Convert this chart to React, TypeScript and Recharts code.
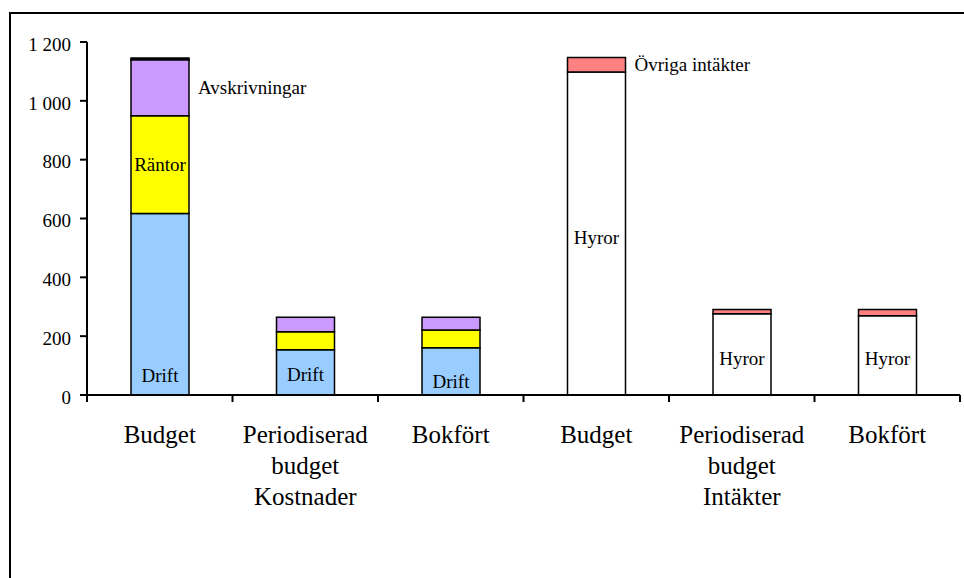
import React from 'react';
import { BarChart, Bar, XAxis, YAxis, LabelList } from 'recharts';

// kategorier på x-axeln, grupperade tre och tre
const categories = ['Budget', 'Periodiserad budget', 'Bokfört', 'Budget', 'Periodiserad budget', 'Bokfört'];
const groups = ['Kostnader', 'Intäkter'];

// kostnader
const drift = [617, 154, 161, 0, 0, 0];
const rantor = [332, 61, 60, 0, 0, 0];
const avskrivningar = [191, 49, 43, 0, 0, 0];
const ovrigt = [6, 0, 0, 0, 0, 0];
// intäkter
const hyror = [0, 0, 0, 1098, 276, 269];
const ovrigaIntakter = [0, 0, 0, 49, 15, 22];

const yTicks = [0, 200, 400, 600, 800, 1000, 1200];

const data = categories.map((name, i) => ({
  name,
  pos: i,
  drift: drift[i],
  rantor: rantor[i],
  avskrivningar: avskrivningar[i],
  ovrigt: ovrigt[i],
  hyror: hyror[i],
  ovrigaIntakter: ovrigaIntakter[i],
}));

const FONT = '"Liberation Serif", "Times New Roman", serif';

const fmt = (v: number) =>
  v >= 1000 ? `${Math.floor(v / 1000)} ${String(v % 1000).padStart(3, '0')}` : String(v);

type Place = 'center' | 'right' | 'bottom';

// label inside/next to a stacked segment, only for the listed bars (value = category position)
function segmentLabel(text: string, show: number[], place: Place, lift: number[] = []) {
  return (props: any) => {
    const idx = Number(props.value);
    if (!show.includes(idx)) return null;
    const vb = props.viewBox ?? props;
    const x = Number(vb.x);
    const y = Number(vb.y);
    const w = Number(vb.width);
    const h = Number(vb.height);
    let tx = x + w / 2;
    let ty = y + h / 2 + 6;
    let anchor: 'middle' | 'start' = 'middle';
    const k = show.indexOf(idx);
    if (place === 'right') {
      tx = x + w + 9;
      anchor = 'start';
    } else if (place === 'bottom') {
      ty = y + h - (lift[k] ?? 12);
    } else {
      ty += lift[k] ?? 0;
    }
    return (
      <text x={tx} y={ty} textAnchor={anchor} fontSize={19} fontFamily={FONT} fill="#000">
        {text}
      </text>
    );
  };
}

function CategoryTick(props: any) {
  const { x, y, payload, index } = props;
  const half = payload?.offset ?? 873 / 12;
  const lines = String(payload.value).split(' ');
  const group = index % 3 === 1 ? groups[Math.floor(index / 3)] : null;
  return (
    <g>
      <line x1={x - half} x2={x - half} y1={y} y2={y + 7} stroke="#000" strokeWidth={2} />
      {index === categories.length - 1 && (
        <line x1={x + half} x2={x + half} y1={y} y2={y + 7} stroke="#000" strokeWidth={2} />
      )}
      {lines.map((l, i) => (
        <text key={i} x={x} y={y + 48 + i * 31} textAnchor="middle" fontSize={25} fontFamily={FONT} fill="#000">
          {l}
        </text>
      ))}
      {group && (
        <text x={x} y={y + 48 + 2 * 31} textAnchor="middle" fontSize={25} fontFamily={FONT} fill="#000">
          {group}
        </text>
      )}
    </g>
  );
}

export default function App() {
  const bar = { stackId: 'a', stroke: '#000', strokeWidth: 1.5, isAnimationActive: false };
  return (
    <div
      style={{
        position: 'absolute',
        left: 0,
        top: 0,
        width: 964,
        height: 578,
        background: '#fff',
        fontFamily: FONT,
      }}
    >
      <div
        style={{
          position: 'absolute',
          left: 9,
          top: 12,
          width: 960,
          height: 570,
          borderTop: '2.5px solid #000',
          borderLeft: '2.5px solid #000',
        }}
      />
      <BarChart
        width={964}
        height={578}
        data={data}
        barSize={58}
        margin={{ top: 42, right: 4, bottom: 63, left: 0 }}
        style={{ fontFamily: FONT, position: 'absolute', left: 0, top: 0 }}
      >
        <XAxis
          dataKey="name"
          height={120}
          interval={0}
          tickSize={0}
          tickMargin={0}
          tickLine={false}
          axisLine={{ stroke: '#000', strokeWidth: 2 }}
          tick={<CategoryTick />}
        />
        <YAxis
          width={87}
          domain={[0, 1200]}
          ticks={yTicks}
          interval={0}
          tickSize={7}
          tickMargin={9}
          tickFormatter={fmt}
          axisLine={{ stroke: '#000', strokeWidth: 2 }}
          tickLine={{ stroke: '#000', strokeWidth: 2 }}
          tick={{ fontSize: 19, fill: '#000', fontFamily: FONT, dy: 2 }}
        />
        <Bar dataKey="drift" fill="#99CCFF" {...bar}>
          <LabelList dataKey="pos" content={segmentLabel('Drift', [0, 1, 2], 'bottom', [13, 14, 7])} />
        </Bar>
        <Bar dataKey="rantor" fill="#FFFF00" {...bar}>
          <LabelList dataKey="pos" content={segmentLabel('Räntor', [0], 'center')} />
        </Bar>
        <Bar dataKey="avskrivningar" fill="#CC99FF" {...bar}>
          <LabelList dataKey="pos" content={segmentLabel('Avskrivningar', [0], 'right')} />
        </Bar>
        <Bar dataKey="ovrigt" fill="#000" {...bar} />
        <Bar dataKey="hyror" fill="#FFFFFF" {...bar}>
          <LabelList dataKey="pos" content={segmentLabel('Hyror', [3, 4, 5], 'center', [4.5, 4.5, 3.5])} />
        </Bar>
        <Bar dataKey="ovrigaIntakter" fill="#FF8080" {...bar}>
          <LabelList dataKey="pos" content={segmentLabel('Övriga intäkter', [3], 'right')} />
        </Bar>
      </BarChart>
    </div>
  );
}
